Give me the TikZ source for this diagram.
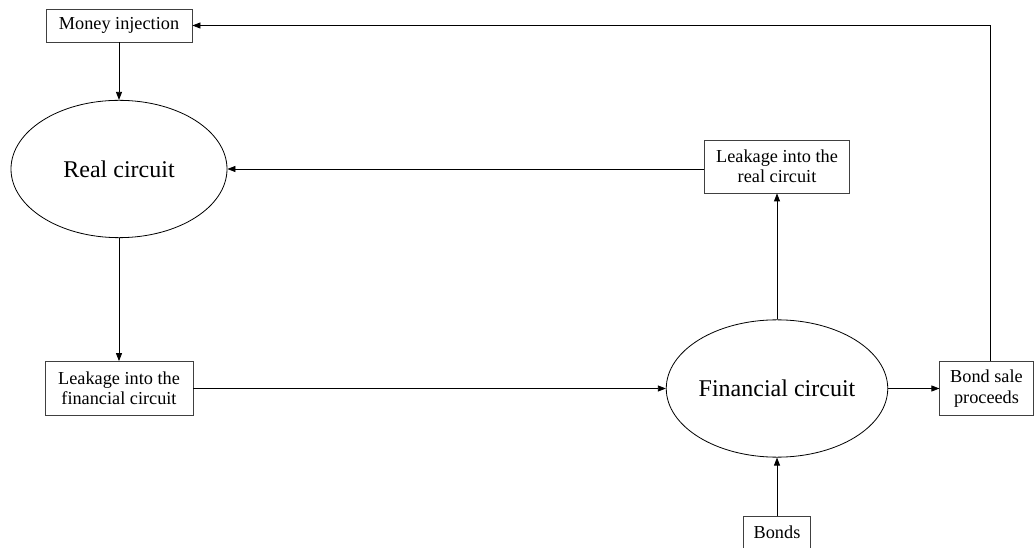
\documentclass[tikz,border=0pt]{standalone}
\usepackage{fontspec}
\setmainfont{Liberation Serif}
\usetikzlibrary{arrows.meta, shapes.geometric}

\begin{document}
\begin{tikzpicture}[x=0.75pt, y=-0.75pt, line width=0.6pt, >={Triangle[length=6pt,width=4.5pt]},
	flowbox/.style={draw=black!75, align=center, inner sep=0pt, font=\fontsize{13.7}{15.2}\selectfont},
	circuit/.style={draw, ellipse, inner sep=0pt, minimum width=162pt, minimum height=103pt, font=\fontsize{18}{20}\selectfont}] % coordinates in pixels of the original

	\useasboundingbox (0,0) rectangle (1034,548);

	\node[flowbox, minimum width=109.5pt, minimum height=24.75pt] (money) at (119,25.5) {Money injection};
	\node[circuit] (real) at (119,169) {Real circuit};
	\node[flowbox, minimum width=108.75pt, minimum height=39.75pt] (leakreal) at (777,166.5) {Leakage into the\\real circuit};
	\node[circuit] (fin) at (777,388.5) {Financial circuit};
	\node[flowbox, minimum width=111pt, minimum height=40.5pt] (leakfin) at (119,388.5) {Leakage into the\\financial circuit};
	\node[flowbox, minimum width=70pt, minimum height=41pt] (proceeds) at (986.5,388.5) {Bond sale\\proceeds};
	\node[flowbox, minimum width=50pt, minimum height=24.75pt] (bonds) at (777,532.5) {Bonds};

	\draw[->] (money.south) -- (real.north);
	\draw[->] (real.south) -- (leakfin.north);
	\draw[->] (leakfin.east) -- (fin.west);
	\draw[->] (fin.east) -- (proceeds.west);
	\draw[->] (bonds.north) -- (fin.south);
	\draw[->] (fin.north) -- (leakreal.south);
	\draw[->] (leakreal.west |- real.east) -- (real.east);
	\draw[->] ([xshift=3pt]proceeds.north) |- (money.east);

\end{tikzpicture}
\end{document}
